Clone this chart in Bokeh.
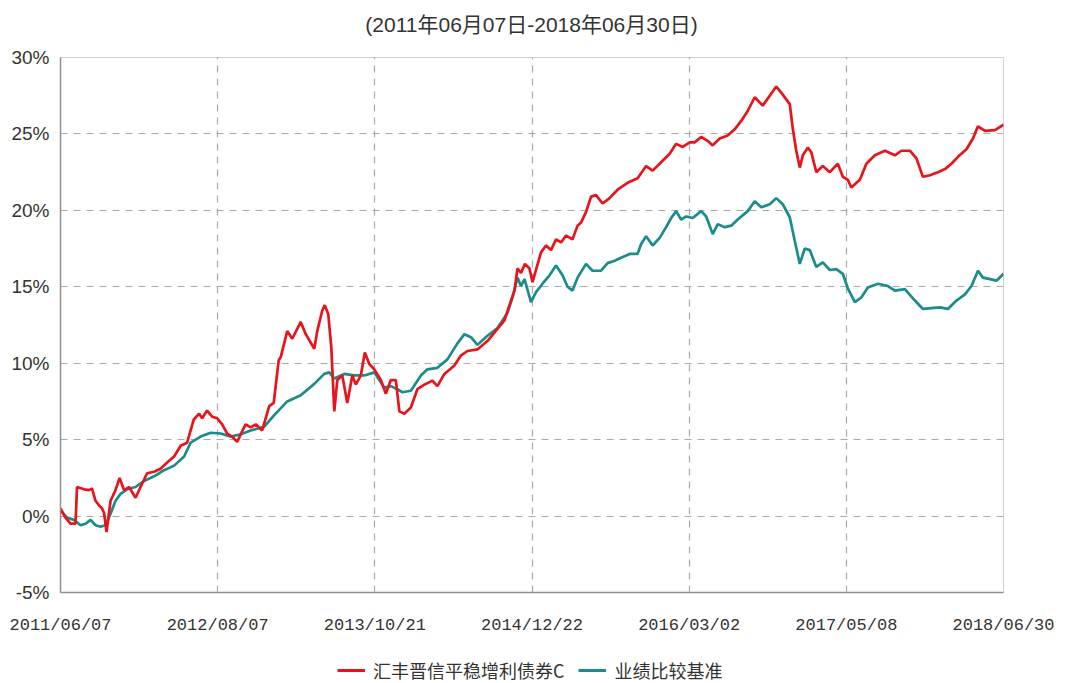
from bokeh.plotting import figure
from bokeh.models import FixedTicker, Label, Legend, LegendItem, Range1d
from bokeh.layouts import column
from bokeh.embed import file_html
from bokeh.resources import INLINE

# ---------------- data ----------------
title_text = "(2011年06月07日-2018年06月30日)"
x_tick_labels = ["2011/06/07", "2012/08/07", "2013/10/21", "2014/12/22",
                 "2016/03/02", "2017/05/08", "2018/06/30"]
n_obs = 1884                      # observation index span of the series
y_ticks = [-5, 0, 5, 10, 15, 20, 25, 30]

fund_name = "汇丰晋信平稳增利债券C"
bench_name = "业绩比较基准"

fund_idx = [0, 10, 20, 30, 33, 47, 57, 63, 70, 77, 83, 87, 92, 100, 110, 118, 127, 137,
            150, 160, 173, 187, 200, 213, 227, 240, 253, 266, 277, 283, 293, 303, 313,
            323, 333, 343, 353, 363, 370, 380, 390, 403, 417, 426, 436, 440, 453, 463,
            480, 490, 507, 513, 523, 528, 535, 541, 547, 553, 563, 573, 583, 590, 600,
            608, 617, 627, 640, 650, 660, 670, 677, 687, 700, 713, 727, 743, 753, 767,
            787, 800, 813, 833, 853, 873, 887, 897, 907, 913, 920, 928, 937, 943, 950,
            960, 970, 980, 990, 1000, 1010, 1023, 1033, 1040, 1050, 1060, 1070, 1083,
            1097, 1113, 1133, 1153, 1170, 1183, 1200, 1217, 1230, 1243, 1257, 1267, 1280,
            1293, 1303, 1317, 1333, 1347, 1360, 1373, 1387, 1403, 1417, 1430, 1440, 1457,
            1463, 1470, 1477, 1483, 1493, 1500, 1510, 1523, 1537, 1553, 1563, 1573, 1580,
            1597, 1610, 1627, 1647, 1667, 1680, 1697, 1710, 1723, 1737, 1753, 1767, 1780,
            1793, 1810, 1823, 1833, 1847, 1867, 1884]
fund_ret = [0.5, -0.1, -0.5, -0.5, 1.9, 1.75, 1.7, 1.8, 1.0, 0.7, 0.5, 0.2, -1.05, 1.0, 1.7,
            2.5, 1.7, 1.9, 1.2, 1.9, 2.8, 2.9, 3.1, 3.5, 3.9, 4.6, 4.8, 6.3, 6.7, 6.4, 6.9,
            6.5, 6.4, 6.0, 5.4, 5.2, 4.85, 5.55, 6.0, 5.8, 6.0, 5.6, 7.2, 7.4, 10.2, 10.4,
            12.1, 11.6, 12.7, 11.9, 10.95, 12.1, 13.45, 13.8, 13.2, 11.05, 6.85, 8.9, 9.2,
            7.4, 9.2, 8.6, 9.2, 10.7, 9.95, 9.6, 8.9, 8.0, 8.9, 8.9, 6.85, 6.7, 7.1, 8.3,
            8.6, 8.85, 8.5, 9.3, 9.85, 10.5, 10.8, 10.9, 11.45, 12.25, 12.8, 13.8, 14.75,
            16.2, 15.9, 16.5, 16.2, 15.3, 16.1, 17.25, 17.7, 17.4, 18.1, 17.9, 18.35, 18.1,
            19.0, 19.2, 19.9, 20.9, 21.0, 20.45, 20.8, 21.35, 21.8, 22.1, 22.9, 22.6, 23.15,
            23.7, 24.35, 24.15, 24.45, 24.45, 24.8, 24.55, 24.25, 24.7, 24.9, 25.3, 25.85,
            26.5, 27.4, 26.85, 27.5, 28.1, 27.7, 26.95, 25.35, 23.9, 22.8, 23.6, 24.1, 23.8,
            22.5, 22.9, 22.5, 23.05, 22.2, 22.0, 21.5, 22.0, 23.05, 23.6, 23.9, 23.6, 23.9,
            23.9, 23.4, 22.2, 22.3, 22.5, 22.7, 23.05, 23.5, 24.0, 24.7, 25.5, 25.2, 25.25,
            25.6]

bench_idx = [0, 13, 27, 40, 50, 60, 70, 80, 90, 100, 110, 120, 133, 150, 167, 187, 207,
             227, 247, 260, 280, 300, 320, 340, 360, 380, 407, 427, 453, 480, 507, 527,
             537, 547, 567, 587, 607, 627, 647, 660, 673, 683, 700, 720, 733, 753, 773, 793,
             807, 820, 833, 853, 873, 883, 893, 903, 913, 920, 927, 940, 950, 963, 977, 990,
             1003, 1013, 1023, 1033, 1050, 1063, 1080, 1093, 1107, 1120, 1137, 1153, 1160,
             1170, 1183, 1197, 1210, 1220, 1230, 1240, 1250, 1263, 1280, 1290, 1303, 1313,
             1327, 1340, 1353, 1373, 1387, 1400, 1417, 1430, 1443, 1457, 1467, 1477, 1487,
             1497, 1510, 1523, 1537, 1550, 1563, 1573, 1587, 1600, 1613, 1633, 1653, 1667,
             1687, 1707, 1723, 1740, 1757, 1773, 1790, 1807, 1820, 1833, 1843, 1857, 1870,
             1884]
bench_ret = [0.35, -0.1, -0.25, -0.6, -0.5, -0.25, -0.6, -0.7, -0.6, 0.15, 1.0, 1.45, 1.75,
             1.9, 2.3, 2.6, 3.0, 3.3, 3.9, 4.8, 5.2, 5.45, 5.4, 5.2, 5.35, 5.6, 5.85, 6.6,
             7.5, 7.9, 8.65, 9.3, 9.4, 9.0, 9.3, 9.2, 9.2, 9.4, 8.4, 8.5, 8.3, 8.1, 8.2,
             9.2, 9.6, 9.7, 10.25, 11.3, 11.9, 11.7, 11.2, 11.8, 12.3, 12.8, 13.3, 14.3,
             15.6, 15.05, 15.5, 14.0, 14.65, 15.2, 15.75, 16.4, 15.75, 15.0, 14.75, 15.6,
             16.5, 16.05, 16.05, 16.55, 16.7, 16.9, 17.15, 17.15, 17.8, 18.3, 17.7, 18.2,
             18.9, 19.5, 19.95, 19.4, 19.6, 19.5, 19.95, 19.6, 18.45, 19.1, 18.9, 19.0,
             19.4, 19.95, 20.6, 20.2, 20.4, 20.8, 20.4, 19.55, 18.0, 16.5, 17.5, 17.4, 16.3,
             16.6, 16.1, 16.15, 15.85, 14.9, 14.0, 14.3, 14.95, 15.2, 15.05, 14.75, 14.85,
             14.1, 13.55, 13.6, 13.65, 13.55, 14.1, 14.5, 15.05, 16.05, 15.6, 15.5, 15.4,
             15.85]

# ---------------- styles ----------------
RED = "#e8141c"
TEAL = "#198c8b"
TXT = "#333333"
GRID = "#a9a9a9"

x_ticks = [round(i * n_obs / 6) for i in range(len(x_tick_labels))]


def strip(height):
    s = figure(width=1076, height=height, output_backend="svg", toolbar_location=None,
               x_range=Range1d(0, 1), y_range=Range1d(0, 1),
               x_axis_location=None, y_axis_location=None,
               min_border_left=0, min_border_right=0, min_border_top=0,
               min_border_bottom=0, background_fill_color="white",
               border_fill_color="white")
    s.grid.visible = False
    s.outline_line_color = None
    return s


# ---------------- title strip (frame aligned with the chart frame) ----------------
top = strip(45)
top.add_layout(Label(x=471, y=21, x_units="screen", y_units="screen", text=title_text,
                     text_align="center", text_baseline="middle",
                     text_font="Liberation Sans, Noto Sans CJK SC",
                     text_font_size="21px", text_color=TXT))

# ---------------- main chart ----------------
p = figure(width=1076, height=605, output_backend="svg", toolbar_location=None,
           x_range=Range1d(0, n_obs), y_range=Range1d(y_ticks[0], y_ticks[-1]),
           min_border_left=60, min_border_right=73, min_border_top=12,
           min_border_bottom=58, background_fill_color="white",
           border_fill_color="white")
p.outline_line_color = "#cfcfcf"
p.outline_line_width = 1

p.xaxis.ticker = FixedTicker(ticks=x_ticks)
p.xaxis.major_label_overrides = {t: l for t, l in zip(x_ticks, x_tick_labels)}
p.yaxis.ticker = FixedTicker(ticks=y_ticks)
p.yaxis.major_label_overrides = {v: f"{v}%" for v in y_ticks}
for ax in (p.xaxis, p.yaxis):
    ax.major_tick_line_color = None
    ax.minor_tick_line_color = None
    ax.axis_line_color = "#8f8f8f"
    ax.axis_line_width = 1.5
    ax.major_label_text_color = TXT
p.xaxis.major_label_text_font = "Liberation Mono"
p.xaxis.major_label_text_font_size = "17px"
p.xaxis.major_label_standoff = 17
p.yaxis.major_label_text_font = "Liberation Sans"
p.yaxis.major_label_text_font_size = "19px"
p.yaxis.major_label_standoff = 5

p.xgrid.ticker = FixedTicker(ticks=x_ticks)
p.ygrid.ticker = FixedTicker(ticks=y_ticks)
for g in (p.xgrid, p.ygrid):
    g.grid_line_color = GRID
    g.grid_line_dash = "7 6"
    g.grid_line_width = 1.2

p.line(bench_idx, bench_ret, line_color=TEAL, line_width=2.7)
p.line(fund_idx, fund_ret, line_color=RED, line_width=2.7)

# ---------------- legend strip ----------------
lg = strip(33)
# key renderers: data kept outside the strip's visible range, only the legend keys show
key_fund = lg.line([5, 6], [5, 6], line_color=RED, line_width=3)
key_bench = lg.line([5, 6], [5, 6], line_color=TEAL, line_width=3)
legend = Legend(items=[LegendItem(label=fund_name, renderers=[key_fund]),
                       LegendItem(label=bench_name, renderers=[key_bench])],
                orientation="horizontal", location=(277, 0),
                glyph_width=28, glyph_height=20, label_height=20,
                label_standoff=8, spacing=14, padding=0, margin=0,
                border_line_color=None, background_fill_alpha=0,
                label_text_font="Noto Sans CJK SC", label_text_font_size="18px",
                label_text_color=TXT, label_text_baseline="middle")
lg.add_layout(legend, "center")

open("out.html", "w").write(file_html(column(top, p, lg, spacing=0), INLINE))
